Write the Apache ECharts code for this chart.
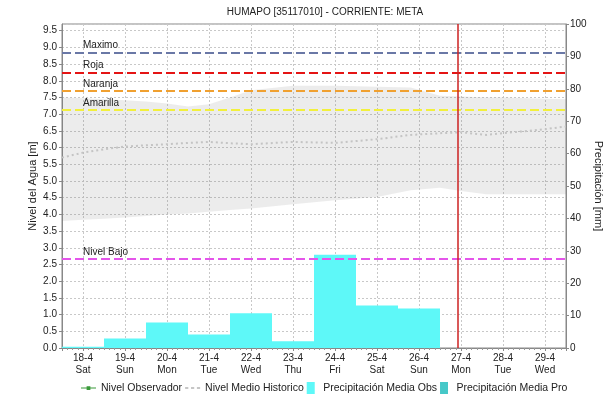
<!DOCTYPE html>
<html>
<head>
<meta charset="utf-8">
<script src="https://cdn.jsdelivr.net/npm/echarts@6/dist/echarts.min.js"></script>
<style>
  html, body { margin: 0; padding: 0; background: #fff; }
  #chart { width: 608px; height: 402px; }
</style>
</head>
<body>
<div id="chart"></div>
<script>
// dias del eje x (indice 0 = 18-4)
const fechas = ['18-4', '19-4', '20-4', '21-4', '22-4', '23-4', '24-4', '25-4', '26-4', '27-4', '28-4', '29-4'];
const diasSemana = ['Sat', 'Sun', 'Mon', 'Tue', 'Wed', 'Thu', 'Fri', 'Sat', 'Sun', 'Mon', 'Tue', 'Wed'];

// precipitacion diaria [mm]
const precipObs = [0.4, 2.9, 7.9, 4.2, 10.7, 2.1, 28.8, 13.1, 12.2];
const precipPro = [];
const nivelObs = [];

// historico [m], x en dias desde 18-4
const histX = [-0.5, 0, 0.5, 1, 1.5, 2, 2.5, 3, 3.5, 4, 5, 6, 7, 7.8, 8.5, 9, 9.6, 10, 11, 11.5];
const histMin = [3.8, 3.84, 3.87, 3.91, 3.95, 4.0, 4.03, 4.08, 4.13, 4.18, 4.3, 4.42, 4.52, 4.72, 4.8, 4.7, 4.6, 4.6, 4.6, 4.6];
const histMax = [7.5, 7.48, 7.45, 7.42, 7.38, 7.32, 7.23, 7.3, 7.5, 7.72, 7.85, 7.85, 7.82, 7.8, 7.55, 7.53, 7.5, 7.5, 7.46, 7.45];
const histMed = [5.7, 5.85, 5.95, 6.03, 6.07, 6.1, 6.14, 6.17, 6.13, 6.1, 6.17, 6.14, 6.25, 6.38, 6.43, 6.46, 6.38, 6.43, 6.55, 6.63];

// umbrales [m]
const umbralNombres = ['Maximo', 'Roja', 'Naranja', 'Amarilla', 'Nivel Bajo'];
const umbralValores = [8.85, 8.25, 7.7, 7.13, 2.66];
const umbralColores = ['#6a78a6', '#e41414', '#f0a030', '#f2f03c', '#e455ea'];

// fecha actual (dias desde 18-4)
const ahora = 8.93;

const fuente = "'Liberation Sans', Arial, sans-serif";

const chart = echarts.init(document.getElementById('chart'));

const option = {
  animation: false,
  textStyle: { fontFamily: fuente },
  title: {
    text: 'HUMAPO [35117010] - CORRIENTE: META',
    left: 320,
    textAlign: 'center',
    top: 2,
    textStyle: { fontSize: 10, fontWeight: 'normal', color: '#222', fontFamily: fuente }
  },
  grid: {
    left: 62,
    right: 42,
    top: 24,
    bottom: 54,
    outerBoundsMode: 'none',
    show: true,
    borderColor: '#888',
    borderWidth: 1
  },
  legend: {
    left: 76,
    bottom: 3,
    itemWidth: 15,
    itemHeight: 12,
    itemGap: 3,
    symbolKeepAspect: true,
    textStyle: { fontSize: 10.5, color: '#222', fontFamily: fuente },
    data: [
      { name: 'Nivel Observador', icon: 'path://M0,1.4h16v1.2h-16zM6,0h4v4h-4z' },
      { name: 'Nivel Medio Historico', icon: 'path://M0,0h3v1.4h-3zM5.5,0h3v1.4h-3zM11,0h3v1.4h-3z' },
      { name: 'Precipitación Media Obs', icon: 'path://M0,0h8v12h-8z' },
      { name: 'Precipitación Media Pro', icon: 'path://M0,0h8v12h-8z' }
    ]
  },
  xAxis: {
    type: 'value',
    min: -0.5,
    max: 11.5,
    splitNumber: 12,
    minInterval: 1,
    maxInterval: 1,
    axisLine: { onZero: false, lineStyle: { color: '#888' } },
    axisTick: { show: true, length: 3, lineStyle: { color: '#888' } },
    minorTick: { show: true, splitNumber: 8, length: 2, lineStyle: { color: '#999' } },
    axisLabel: {
      color: '#222',
      fontSize: 10,
      lineHeight: 12,
      margin: 4,
      showMinLabel: false,
      showMaxLabel: false,
      formatter: v => (Number.isInteger(v) && fechas[v]) ? fechas[v] + '\n' + diasSemana[v] : ''
    },
    splitLine: { show: true, lineStyle: { color: '#c8c8c8', type: [2, 2] } }
  },
  yAxis: [
    {
      type: 'value',
      min: 0,
      max: 9.7,
      interval: 0.5,
      name: 'Nivel del Agua [m]',
      nameLocation: 'middle',
      nameGap: 24,
      nameMoveOverlap: false,
      nameTextStyle: { fontSize: 11, color: '#222' },
      axisLine: { show: true, onZero: false, lineStyle: { color: '#888' } },
      axisTick: { show: true, length: 3, lineStyle: { color: '#888' } },
      axisLabel: {
        color: '#222',
        fontSize: 10,
        margin: 5,
        showMaxLabel: false,
        formatter: v => v.toFixed(1)
      },
      splitLine: { show: true, lineStyle: { color: '#c8c8c8', type: [2, 2] } }
    },
    {
      type: 'value',
      min: 0,
      max: 100,
      interval: 10,
      position: 'right',
      name: 'Precipitación [mm]',
      nameLocation: 'middle',
      nameRotate: -90,
      nameGap: 27,
      nameMoveOverlap: false,
      nameTextStyle: { fontSize: 11, color: '#222' },
      axisLine: { show: true, onZero: false, lineStyle: { color: '#888' } },
      axisTick: { show: true, length: 3, lineStyle: { color: '#888' } },
      axisLabel: { color: '#222', fontSize: 10, margin: 4 },
      splitLine: { show: false }
    }
  ],
  series: [
    {
      // banda historica min-max
      name: 'historico-rango',
      type: 'custom',
      yAxisIndex: 0,
      silent: true,
      z: 1,
      encode: { x: 0, y: [1, 2] },
      data: histX.map((x, i) => [x, histMin[i], histMax[i]]),
      renderItem: (params, api) => {
        if (params.dataIndex !== 0) return;
        const arriba = histX.map((x, i) => api.coord([x, histMax[i]]));
        const abajo = histX.map((x, i) => api.coord([x, histMin[i]])).reverse();
        return {
          type: 'polygon',
          shape: { points: arriba.concat(abajo) },
          style: { fill: 'rgba(120,120,120,0.14)' }
        };
      }
    },
    {
      name: 'Precipitación Media Obs',
      type: 'bar',
      stack: 'precip',
      yAxisIndex: 1,
      barWidth: '100%',
      itemStyle: { color: '#5ef8f8' },
      data: precipObs.map((v, i) => [i, v]),
      z: 2
    },
    {
      name: 'Precipitación Media Pro',
      type: 'bar',
      stack: 'precip',
      yAxisIndex: 1,
      barWidth: '100%',
      itemStyle: { color: '#46c8c8' },
      data: precipPro.map((v, i) => [i, v]),
      z: 2
    },
    {
      name: 'Nivel Observador',
      type: 'line',
      yAxisIndex: 0,
      symbol: 'rect',
      symbolSize: 4,
      itemStyle: { color: '#3a9a3a' },
      lineStyle: { color: '#3a9a3a', width: 1.5 },
      data: nivelObs,
      z: 4
    },
    {
      name: 'Nivel Medio Historico',
      type: 'line',
      yAxisIndex: 0,
      symbol: 'none',
      itemStyle: { color: '#b4b4b4' },
      lineStyle: { color: '#c4c4c4', width: 2, type: [2, 3] },
      data: histX.map((x, i) => [x, histMed[i]]),
      z: 3,
      markLine: {
        silent: true,
        symbol: 'none',
        animation: false,
        data: umbralValores.map((v, i) => ({
          name: umbralNombres[i],
          yAxis: v,
          lineStyle: { color: umbralColores[i], width: 2, type: [9, 4], opacity: 1 },
          label: {
            show: true,
            position: 'insideStartTop',
            formatter: umbralNombres[i],
            color: '#222',
            fontSize: 10,
            fontFamily: fuente,
            distance: [21, 2]
          }
        })).concat([{
          xAxis: ahora,
          lineStyle: { color: '#cc2222', width: 1.5, type: 'solid', opacity: 1 },
          label: { show: false }
        }])
      }
    }
  ]
};

chart.setOption(option);
</script>
</body>
</html>
